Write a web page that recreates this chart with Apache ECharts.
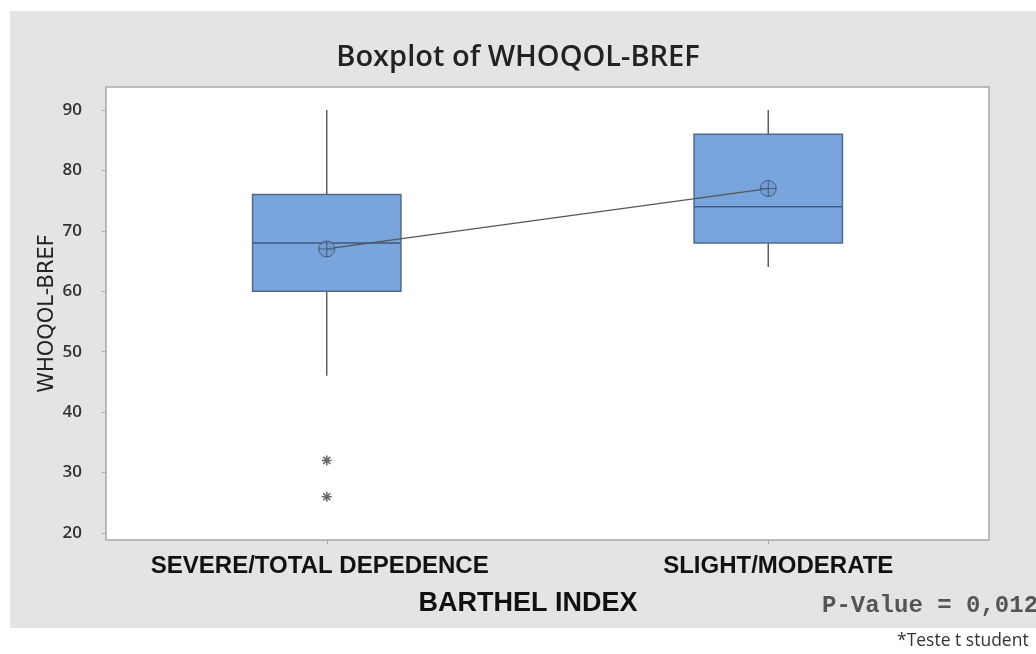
<!DOCTYPE html>
<html>
<head>
<meta charset="utf-8">
<script src="https://cdn.jsdelivr.net/npm/echarts@6/dist/echarts.min.js"></script>
<style>
  html, body { margin: 0; padding: 0; background: #fff; }
  #chart { width: 1036px; height: 654px; }
</style>
</head>
<body>
<div id="chart"></div>
<script>
// Barthel index groups
const categories = ['SEVERE/TOTAL DEPEDENCE', 'SLIGHT/MODERATE'];
// [lower whisker, Q1, median, Q3, upper whisker]
const boxStats = [
  [46, 60, 68, 76, 90],
  [64, 68, 74, 86, 90]
];
// group means
const means = [67, 77];
// outliers: [group index, value]
const outliers = [[0, 32], [0, 26]];
const yTicks = [20, 30, 40, 50, 60, 70, 80, 90];

const chart = echarts.init(document.getElementById('chart'), null, { renderer: 'canvas' });

const meanSymbol = 'path://M10,0 A10,10 0 1,1 9.99,0 Z M10,0 L10,20 M0,10 L20,10';
const starSymbol = 'path://M10,0 L10,20 M0,10 L20,10 M2.93,2.93 L17.07,17.07 M2.93,17.07 L17.07,2.93';

// box with whiskers, no end caps
function renderBox(params, api) {
  const x = api.value(0);
  const lo = api.coord([x, api.value(1)]);
  const q1 = api.coord([x, api.value(2)]);
  const md = api.coord([x, api.value(3)]);
  const q3 = api.coord([x, api.value(4)]);
  const hi = api.coord([x, api.value(5)]);
  const w = api.size([1, 0])[0] * 0.336;
  const cx = md[0];
  const whisker = { stroke: '#555', lineWidth: 1.4 };
  return {
    type: 'group',
    children: [
      { type: 'line', shape: { x1: cx, y1: hi[1], x2: cx, y2: q3[1] }, style: whisker },
      { type: 'line', shape: { x1: cx, y1: q1[1], x2: cx, y2: lo[1] }, style: whisker },
      {
        type: 'rect',
        shape: { x: cx - w / 2, y: q3[1], width: w, height: q1[1] - q3[1] },
        style: { fill: '#7aa5dc', stroke: '#50698e', lineWidth: 1.5 }
      },
      { type: 'line', shape: { x1: cx - w / 2, y1: md[1], x2: cx + w / 2, y2: md[1] },
        style: { stroke: '#3f5a80', lineWidth: 1.5 } }
    ]
  };
}

const labelFont = { fontFamily: '"Liberation Sans", Arial, sans-serif', fontWeight: 'bold', fontSize: 24, color: '#111' };

chart.setOption({
  backgroundColor: '#ffffff',
  animation: false,
  graphic: [
    {
      type: 'rect', z: -10, silent: true,
      shape: { x: 10, y: 11, width: 1026, height: 617 },
      style: { fill: '#e4e4e4' }
    },
    {
      type: 'text', x: 528, y: 604,
      style: {
        text: 'BARTHEL INDEX', align: 'center', verticalAlign: 'middle',
        font: 'bold 27px "Liberation Sans", Arial, sans-serif', fill: '#111'
      }
    },
    {
      type: 'text', x: 822, y: 606,
      style: {
        text: 'P-Value = 0,012', verticalAlign: 'middle',
        font: 'bold 24px "Liberation Mono", "DejaVu Sans Mono", monospace', fill: '#555'
      }
    },
    {
      type: 'text', x: 897, y: 641,
      style: {
        text: '*Teste t student', verticalAlign: 'middle',
        font: '17.5px "Open Sans", sans-serif', fill: '#333'
      }
    }
  ],
  title: {
    text: 'Boxplot of WHOQOL-BREF',
    left: 'center', top: 38,
    textStyle: { fontFamily: '"Open Sans", sans-serif', fontWeight: 600, fontSize: 29, color: '#222' }
  },
  grid: {
    left: 106, right: 47, top: 87, bottom: 114,
    show: true, backgroundColor: '#ffffff', borderColor: '#a8a8a8', borderWidth: 1.5
  },
  xAxis: {
    type: 'category',
    data: categories,
    boundaryGap: true,
    axisLine: { show: false },
    axisTick: { show: true, alignWithLabel: true, length: 4, lineStyle: { color: '#aaa' } },
    axisLabel: {
      interval: 0, hideOverlap: false,
      margin: 14, ...labelFont,
      formatter: (v, i) => (i === 0 ? '{a|' + v + '}' : '{b|' + v + '}'),
      rich: {
        a: { ...labelFont, padding: [0, 14, 0, 0] },
        b: { ...labelFont, padding: [0, 0, 0, 20] }
      }
    },
    splitLine: { show: false }
  },
  yAxis: {
    type: 'value',
    min: 18.84, max: 93.8,
    name: 'WHOQOL-BREF',
    nameLocation: 'middle',
    nameGap: 48,
    nameMoveOverlap: false,
    nameRotate: 90,
    nameTextStyle: { fontFamily: '"DejaVu Sans", sans-serif', fontSize: 21, color: '#222' },
    axisLine: { show: false },
    axisTick: { show: true, length: 4, customValues: yTicks, lineStyle: { color: '#aaa' } },
    axisLabel: {
      customValues: yTicks, margin: 24, color: '#333',
      fontFamily: '"Open Sans", sans-serif', fontWeight: 600, fontSize: 17
    },
    splitLine: { show: false }
  },
  series: [
    {
      name: 'WHOQOL-BREF',
      type: 'custom',
      renderItem: renderBox,
      data: boxStats.map((d, i) => [i].concat(d)),
      encode: { x: 0, y: [1, 2, 3, 4, 5] },
      z: 2
    },
    {
      name: 'Mean',
      type: 'line',
      data: means,
      symbol: meanSymbol,
      symbolSize: 16,
      showSymbol: true,
      lineStyle: { color: '#555', width: 1.3 },
      itemStyle: { color: 'rgba(110,150,205,0.6)', borderColor: '#445a7a', borderWidth: 1 },
      z: 3
    },
    {
      name: 'Outlier',
      type: 'scatter',
      data: outliers,
      symbol: starSymbol,
      symbolSize: 10,
      itemStyle: { color: 'transparent', borderColor: '#444', borderWidth: 1.6 },
      z: 3
    }
  ]
});
</script>
</body>
</html>
